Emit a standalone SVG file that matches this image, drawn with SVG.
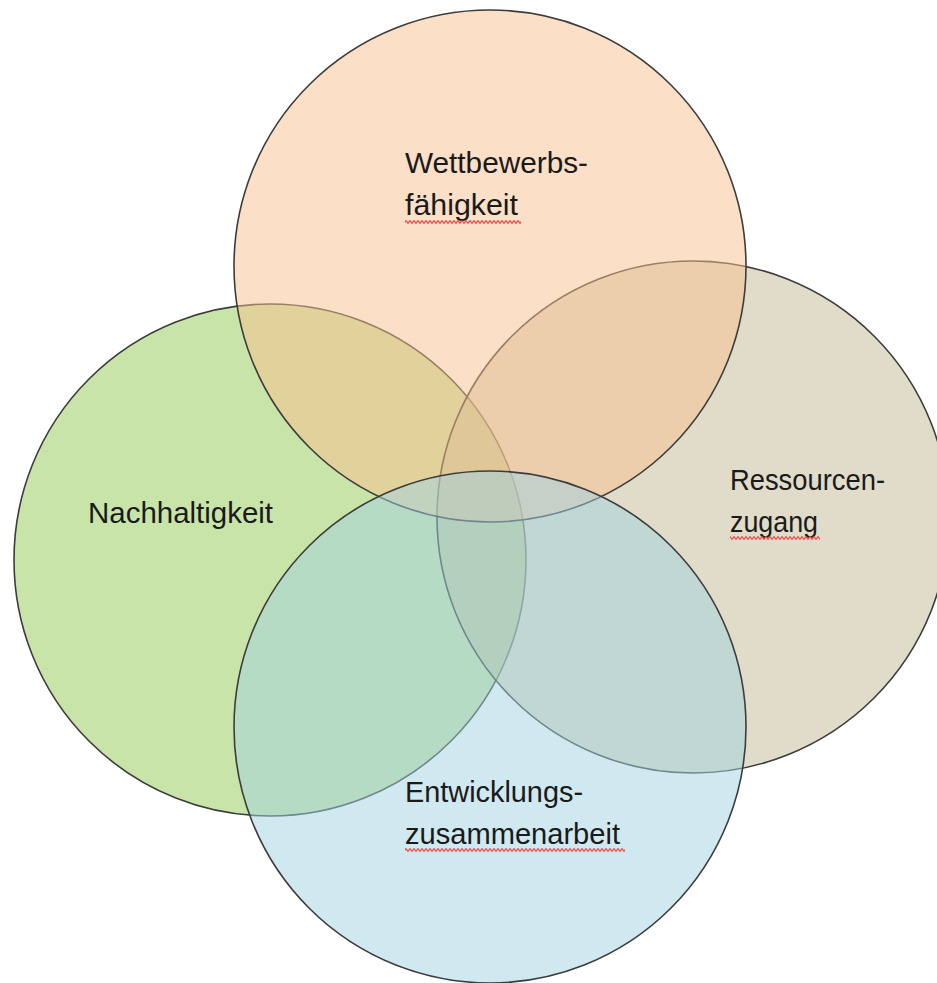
<svg xmlns="http://www.w3.org/2000/svg" width="937" height="983" viewBox="0 0 937 983">
  <style>
    .c { stroke: #3c3c3c; stroke-width: 1.6; fill-opacity: 0.5; }
    .t { font-family: "Liberation Sans", Arial, sans-serif; font-size: 29px; fill: #1a1a1a; }
  </style>
  <defs>
    <pattern id="squiggle" x="0" y="0" width="4" height="4" patternUnits="userSpaceOnUse">
      <path d="M-2,1 L0,3.4 L2,0.6 L4,3.4 L6,0.6" fill="none" stroke="#f05050" stroke-width="1.2"/>
    </pattern>
  </defs>
  <rect width="937" height="983" fill="#ffffff"/>
  <g id="nachhaltigkeit">
    <circle class="c" cx="270" cy="560" r="256" fill="#93c951"/>
  </g>
  <g id="ressourcenzugang">
    <circle class="c" cx="693" cy="517" r="256" fill="#c1b993"/>
  </g>
  <g id="wettbewerbsfaehigkeit">
    <circle class="c" cx="490" cy="266" r="256" fill="#f9bf8f"/>
  </g>
  <g id="entwicklungszusammenarbeit">
    <circle class="c" cx="490" cy="727" r="256" fill="#a1d1df"/>
  </g>
  <g id="labels">
    <text class="t" x="405" y="173" textLength="183" lengthAdjust="spacingAndGlyphs">Wettbewerbs-</text>
    <text class="t" x="405" y="215" textLength="113" lengthAdjust="spacingAndGlyphs">fähigkeit</text>
    <rect x="405" y="220" width="116" height="4" fill="url(#squiggle)"/>
    <text class="t" x="730" y="490" textLength="155" lengthAdjust="spacingAndGlyphs">Ressourcen-</text>
    <text class="t" x="730" y="532" textLength="88" lengthAdjust="spacingAndGlyphs">zugang</text>
    <rect x="730" y="536" width="90" height="4" fill="url(#squiggle)"/>
    <text class="t" x="88" y="523" textLength="185" lengthAdjust="spacingAndGlyphs">Nachhaltigkeit</text>
    <text class="t" x="405" y="802" textLength="178" lengthAdjust="spacingAndGlyphs">Entwicklungs-</text>
    <text class="t" x="405" y="844" textLength="215" lengthAdjust="spacingAndGlyphs">zusammenarbeit</text>
    <rect x="405" y="848" width="220" height="4" fill="url(#squiggle)"/>
  </g>
</svg>
